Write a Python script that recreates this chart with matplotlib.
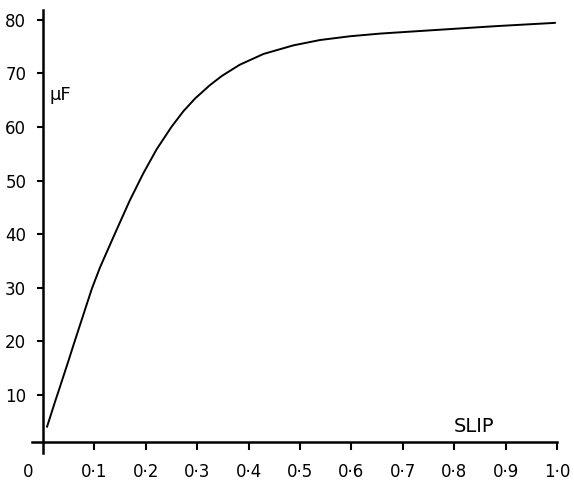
import matplotlib.pyplot as plt
import matplotlib.transforms as mtransforms

# curve
slip = [0.008, 0.023, 0.033, 0.049, 0.062, 0.078, 0.095, 0.111, 0.134, 0.147,
        0.169, 0.195, 0.221, 0.250, 0.273, 0.296, 0.325, 0.348, 0.383, 0.429,
        0.487, 0.539, 0.597, 0.656, 0.688, 0.785, 0.883, 0.996]
cap = [4.1, 8.6, 11.5, 16.2, 20.1, 24.8, 29.8, 33.8, 38.8, 41.6,
       46.3, 51.3, 55.8, 60.0, 62.9, 65.3, 67.8, 69.5, 71.6, 73.6,
       75.2, 76.2, 76.9, 77.4, 77.6, 78.2, 78.8, 79.4]

xticks = [0.1, 0.2, 0.3, 0.4, 0.5, 0.6, 0.7, 0.8, 0.9, 1.0]
xlabels = ['0·1', '0·2', '0·3', '0·4', '0·5', '0·6', '0·7', '0·8', '0·9', '1·0']
yticks = [10, 20, 30, 40, 50, 60, 70, 80]

fig = plt.figure(figsize=(5.74, 4.83), dpi=100)
ax = fig.add_axes([0.0557, 0.0621, 0.9146, 0.9172])

ax.plot(slip, cap, color='black', lw=1.4, solid_joinstyle='round')

ax.set_xlim(-0.0214, 1.0)
ax.set_ylim(-0.82, 81.8)

for s in ['top', 'right']:
    ax.spines[s].set_visible(False)
ax.spines['left'].set_position(('data', 0))
ax.spines['bottom'].set_position(('data', 1.23))
ax.spines['left'].set_linewidth(1.8)
ax.spines['bottom'].set_linewidth(1.8)

ax.set_xticks(xticks)
ax.set_xticklabels(xlabels)
ax.set_yticks(yticks)
ax.tick_params(axis='x', direction='out', length=6, width=1.5, pad=9, labelsize=12)
ax.tick_params(axis='y', direction='out', length=4, width=1.5, pad=8, labelsize=12)

# the "0" at the origin sits left of the corner
ax.text(0, 1.23, '0', fontsize=12, ha='center', va='top',
        transform=ax.transData + mtransforms.ScaledTranslation(-15/100, -21/100, fig.dpi_scale_trans))

ax.text(0.012, 66, 'μF', fontsize=13, ha='left', va='center')
ax.text(0.838, 2.3, 'SLIP', fontsize=14, ha='center', va='bottom')

fig.savefig('out.png', dpi=100)
